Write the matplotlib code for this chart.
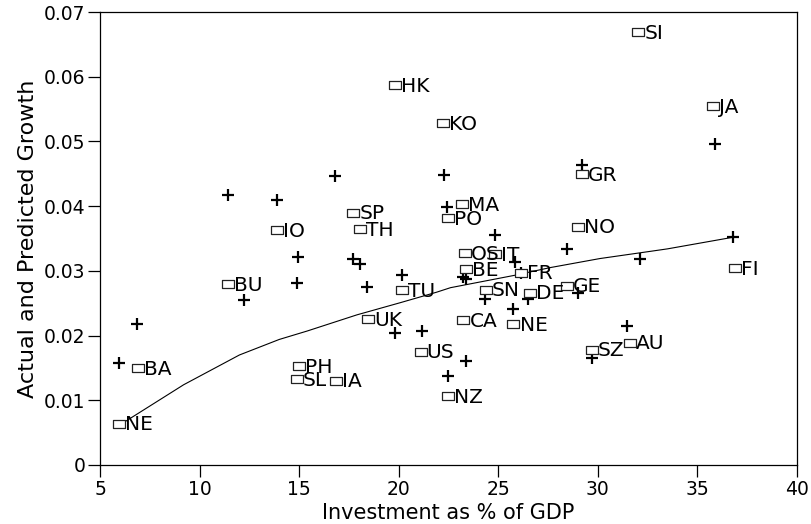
import matplotlib
matplotlib.use("Agg")
import matplotlib.pyplot as plt
from matplotlib.path import Path

# ---- data ----
countries = ["SI", "HK", "KO", "JA", "GR", "SP", "TH", "MA", "PO", "NO", "OS", "IT",
             "BE", "FR", "TU", "SN", "DE", "GE", "UK", "CA", "NE", "IO", "BU", "BA",
             "NE", "PH", "SL", "IA", "US", "NZ", "FI", "AU", "SZ"]
invest = [32.03, 19.81, 22.24, 35.80, 29.19, 17.72, 18.06, 23.16, 22.49, 29.02, 23.33, 24.84,
          23.38, 26.12, 20.15, 24.38, 26.59, 28.43, 18.47, 23.25, 25.76, 13.90, 11.44, 6.89,
          5.97, 14.99, 14.88, 16.85, 21.10, 22.49, 36.89, 31.61, 29.69]
actual = [0.0669, 0.0587, 0.0528, 0.0554, 0.0449, 0.0390, 0.0364, 0.0403, 0.0381, 0.0368, 0.0327, 0.0326,
          0.0303, 0.0297, 0.0270, 0.0271, 0.0266, 0.0277, 0.0225, 0.0224, 0.0218, 0.0363, 0.0279, 0.0150,
          0.0064, 0.0153, 0.0133, 0.0130, 0.0175, 0.0106, 0.0304, 0.0189, 0.0178]

pred_x = [5.97, 6.87, 12.23, 14.88, 18.39, 19.81, 11.44, 13.90, 14.96, 16.81, 17.72, 18.06,
          22.29, 22.44, 24.84, 28.43, 32.12, 20.15, 23.25, 23.38, 25.84, 26.12, 24.33, 25.72,
          26.51, 29.02, 31.45, 21.15, 23.38, 22.49, 29.69, 36.80, 35.88, 29.19]
pred_y = [0.0157, 0.0218, 0.0255, 0.0282, 0.0275, 0.0204, 0.0417, 0.0409, 0.0321, 0.0447, 0.0318, 0.0310,
          0.0448, 0.0399, 0.0356, 0.0334, 0.0319, 0.0293, 0.0290, 0.0287, 0.0313, 0.0297, 0.0256, 0.0241,
          0.0256, 0.0266, 0.0215, 0.0207, 0.0160, 0.0137, 0.0165, 0.0352, 0.0496, 0.0464]

fit_x = [6.0, 9.2, 12.0, 14.0, 15.4, 17.9, 20.1, 21.9, 22.6, 25.8, 27.6, 30.1, 32.6, 33.5, 36.8]
fit_y = [0.0062, 0.0124, 0.0170, 0.0194, 0.0207, 0.0232, 0.0251, 0.0267, 0.0274, 0.0293, 0.0305,
         0.0319, 0.0330, 0.0334, 0.0352]

xticks = [5, 10, 15, 20, 25, 30, 35, 40]
yticks = [0, 0.01, 0.02, 0.03, 0.04, 0.05, 0.06, 0.07]
ytick_labels = ["0", "0.01", "0.02", "0.03", "0.04", "0.05", "0.06", "0.07"]

plt.rcParams['font.family'] = ['DejaVu Sans']

fig = plt.figure(figsize=(8.11, 5.24), dpi=100)
ax = fig.add_axes([100/811, 59/524, 697/811, 453/524])

rect = Path([(-1, -0.68), (1, -0.68), (1, 0.68), (-1, 0.68), (-1, -0.68)],
            [Path.MOVETO, Path.LINETO, Path.LINETO, Path.LINETO, Path.CLOSEPOLY])

ax.plot(fit_x, fit_y, color='black', lw=0.8, zorder=2)
ax.plot(pred_x, pred_y, linestyle='none', marker='+', markersize=9, mew=1.6,
        color='black', zorder=3)
ax.plot(invest, actual, linestyle='none', marker=rect, markersize=8, mew=0.9,
        mfc='white', mec='#222222', zorder=4)
for name, x, y in zip(countries, invest, actual):
    ax.annotate(name, (x, y), xytext=(4.4, -0.8), textcoords='offset points',
                ha='left', va='center', fontsize=14.5, color='black', zorder=5)

ax.set_xlim(5, 40)
ax.set_ylim(0, 0.07)
ax.set_xticks(xticks)
ax.set_xticklabels([str(t) for t in xticks])
ax.set_yticks(yticks)
ax.set_yticklabels(ytick_labels)
ax.tick_params(direction='out', length=8.5, width=0.9, pad=2, labelsize=13.5, colors='black')
for s in ax.spines.values():
    s.set_linewidth(0.9)
ax.set_xlabel("Investment as % of GDP", fontsize=15, labelpad=3)
ax.set_ylabel("Actual and Predicted Growth", fontsize=16, labelpad=4)

fig.savefig("out.png", dpi=100)
